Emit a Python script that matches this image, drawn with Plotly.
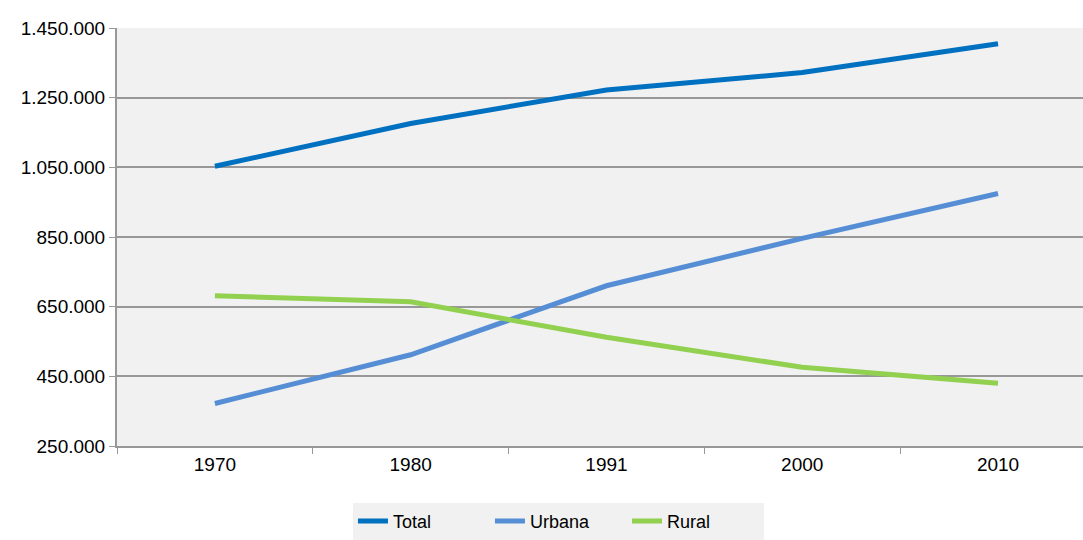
import plotly.graph_objects as go

years = ["1970", "1980", "1991", "2000", "2010"]
total = [1053000, 1176000, 1272000, 1322000, 1405000]
urbana = [372000, 512000, 710000, 846000, 975000]
rural = [681000, 664000, 562000, 476000, 430000]
y_ticks = [250000, 450000, 650000, 850000, 1050000, 1250000, 1450000]
y_labels = ["250.000", "450.000", "650.000", "850.000", "1.050.000", "1.250.000", "1.450.000"]

series = [("Total", total, "#0070C0"), ("Urbana", urbana, "#558ED5"), ("Rural", rural, "#92D050")]

fig = go.Figure()
for name, vals, col in series:
    fig.add_trace(go.Scatter(x=years, y=vals, name=name, mode="lines",
                             line=dict(color=col, width=5)))

fig.update_layout(
    width=1083, height=540,
    margin=dict(l=117, r=0, t=28, b=90),
    paper_bgcolor="white", plot_bgcolor="#F1F1F1",
    font=dict(family="Liberation Sans, Arial, sans-serif", size=18, color="#000000"),
    showlegend=True,
    legend=dict(orientation="h", x=0.457, xanchor="center", y=-0.18, yanchor="middle",
                bgcolor="#F1F1F1", font=dict(size=18), itemwidth=30,
                entrywidth=92, borderwidth=0, tracegroupgap=0),
)
fig.update_xaxes(type="category", range=[-0.5, 4.434], showgrid=False,
                 showline=True, linecolor="#989898", linewidth=2,
                 ticks="outside", tickson="boundaries", ticklen=6, tickcolor="#989898",
                 tickfont=dict(size=19))
fig.update_yaxes(range=[250000, 1450000], tickvals=y_ticks, ticktext=y_labels,
                 showgrid=True, gridcolor="#989898", gridwidth=1.5,
                 showline=True, linecolor="#989898", linewidth=2,
                 ticks="outside", ticklen=6, tickcolor="#989898", zeroline=False,
                 tickfont=dict(size=19))

fig.write_html("out.html")
